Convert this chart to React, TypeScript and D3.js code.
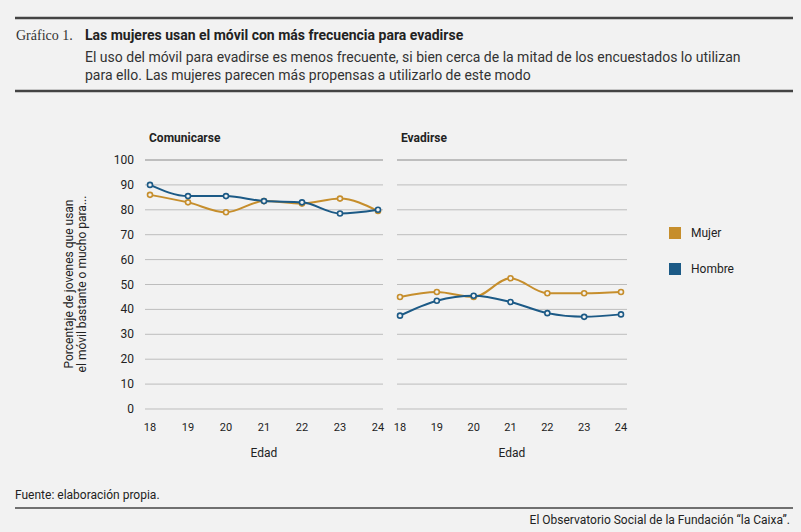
import React from 'react';
import * as d3 from 'd3';

const ages = [18, 19, 20, 21, 22, 23, 24];
const yTicks = [0, 10, 20, 30, 40, 50, 60, 70, 80, 90, 100];
const comMujer = [86, 83, 79, 83.5, 82.5, 84.5, 79.5];
const comHombre = [90, 85.5, 85.5, 83.5, 83, 78.5, 80];
const evaMujer = [45, 47, 45, 52.5, 46.5, 46.5, 47];
const evaHombre = [37.5, 43.5, 45.5, 43, 38.5, 37, 38];
const series = ['Mujer', 'Hombre'];
const colors = ['#c68e2c', '#1c5a86'];

const font = 'Roboto, "Liberation Sans", Arial, sans-serif';

const y = d3.scaleLinear().domain([0, 100]).range([409, 160]);

function Panel({ title, x0, x1, g0, g1, data, showY }: any) {
  const x = d3.scaleLinear().domain([18, 24]).range([x0, x1]);
  const line = d3.line<number>().x((_, i) => x(ages[i])).y((d) => y(d)).curve(d3.curveMonotoneX);
  return (
    <g>
      <text x={g0 + 4} y={142} fontSize={12} fontWeight="bold" fill="#222">{title}</text>
      {yTicks.map((t) => (
        <g key={t}>
          <line x1={g0} x2={g1} y1={y(t)} y2={y(t)} stroke={t === 100 ? '#8a8a8a' : '#bdbdbd'} strokeWidth={1} />
          {showY && <text x={134} y={y(t) + 4} fontSize={12} textAnchor="end" fill="#222">{t}</text>}
        </g>
      ))}
      {ages.map((a) => (
        <text key={a} x={x(a)} y={431} fontSize={11} textAnchor="middle" fill="#222">{a}</text>
      ))}
      <text x={(g0 + g1) / 2} y={457} fontSize={12} textAnchor="middle" fill="#222">Edad</text>
      {data.map((d: number[], si: number) => (
        <g key={si}>
          <path d={line(d) || ''} fill="none" stroke={colors[si]} strokeWidth={2} />
          {d.map((v, i) => (
            <circle key={i} cx={x(ages[i])} cy={y(v)} r={2.5} fill="#f2f2f2" stroke={colors[si]} strokeWidth={1.6} />
          ))}
        </g>
      ))}
    </g>
  );
}

export default function App() {
  return (
    <svg width={801} height={532} style={{ position: 'absolute', left: 0, top: 0, fontFamily: font }}>
      <rect width={801} height={532} fill="#f2f2f2" />
      <line x1={15} x2={793} y1={18} y2={18} stroke="#444" strokeWidth={2.5} />
      <text x={16} y={40} fontSize={14} fontFamily='"Liberation Serif", serif' fill="#333">Gráfico 1.</text>
      <text x={85} y={40} fontSize={14} fontWeight="bold" fill="#222">Las mujeres usan el móvil con más frecuencia para evadirse</text>
      <text x={85} y={62} fontSize={14} fill="#333">El uso del móvil para evadirse es menos frecuente, si bien cerca de la mitad de los encuestados lo utilizan</text>
      <text x={85} y={80} fontSize={14} fill="#333">para ello. Las mujeres parecen más propensas a utilizarlo de este modo</text>
      <line x1={15} x2={793} y1={91} y2={91} stroke="#444" strokeWidth={2.5} />
      <text transform="translate(73,284) rotate(-90)" fontSize={12} textAnchor="middle" fill="#222">
        <tspan x={0} dy={0}>Porcentaje de jovenes que usan</tspan>
        <tspan x={0} dy={13}>el móvil bastante o mucho para...</tspan>
      </text>
      <Panel title="Comunicarse" x0={150} x1={378} g0={145} g1={383} data={[comMujer, comHombre]} showY />
      <Panel title="Evadirse" x0={400} x1={621} g0={397} g1={627} data={[evaMujer, evaHombre]} showY={false} />
      {series.map((s, i) => (
        <g key={s} transform={`translate(669,${233 + i * 36})`}>
          <rect x={0} y={-6} width={12} height={12} fill={colors[i]} />
          <text x={22} y={4} fontSize={12} fill="#222">{s}</text>
        </g>
      ))}
      <text x={15} y={499} fontSize={12} fill="#222">Fuente: elaboración propia.</text>
      <line x1={15} x2={793} y1={508} y2={508} stroke="#444" strokeWidth={1.5} />
      <text x={790} y={524} fontSize={12} textAnchor="end" fill="#222">El Observatorio Social de la Fundación “la Caixa”.</text>
    </svg>
  );
}
